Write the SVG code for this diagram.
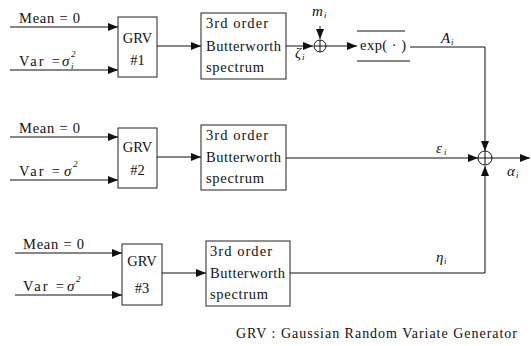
<svg xmlns="http://www.w3.org/2000/svg" width="531" height="346" viewBox="0 0 531 346">
<defs>
<marker id="ah" markerUnits="userSpaceOnUse" markerWidth="10" markerHeight="8" refX="10" refY="4" orient="auto">
<path d="M0,0 L10,4 L0,8 Z" fill="#111"/>
</marker>
<style>
.t{font-family:'Liberation Serif','DejaVu Serif',serif;font-size:14.5px;fill:#111}
.f{font-family:'Liberation Serif','DejaVu Serif',serif;font-size:14px;fill:#111}
.g{font-family:'Liberation Serif','DejaVu Serif',serif;font-size:15px;fill:#111;font-style:italic}
.s{font-family:'Liberation Serif','DejaVu Serif',serif;font-size:9px;fill:#111;font-style:italic}
.box{fill:#fff;stroke:#222;stroke-width:1}
.ln{fill:none;stroke:#111;stroke-width:1}
.ar{fill:none;stroke:#111;stroke-width:1;marker-end:url(#ah)}
</style>
</defs>
<rect width="531" height="346" fill="#fff"/>

<g id="connectors">
<line class="ar" x1="10" y1="27" x2="118" y2="27"/>
<line class="ar" x1="10" y1="70" x2="118" y2="70"/>
<line class="ar" x1="157" y1="46" x2="201" y2="46"/>
<line class="ar" x1="286" y1="46" x2="313" y2="46"/>
<line class="ar" x1="320" y1="26" x2="320" y2="39"/>
<line class="ar" x1="326" y1="46" x2="357" y2="46"/>
<polyline class="ar" points="410,47 485,47 485,151"/>
<line class="ar" x1="10" y1="137" x2="118" y2="137"/>
<line class="ar" x1="10" y1="180" x2="118" y2="180"/>
<line class="ar" x1="157" y1="157" x2="201" y2="157"/>
<line class="ar" x1="286" y1="158" x2="478" y2="158"/>
<line class="ar" x1="492" y1="158" x2="530" y2="158"/>
<line class="ar" x1="15" y1="253" x2="122" y2="253"/>
<line class="ar" x1="15" y1="295" x2="122" y2="295"/>
<line class="ar" x1="162" y1="273" x2="206" y2="273"/>
<polyline class="ar" points="290,273 485,273 485,166"/>
</g>

<g id="grv1">
<rect class="box" x="118" y="17" width="39" height="60"/>
<text class="t" x="137.5" y="43" text-anchor="middle">GRV</text>
<text class="t" x="137.5" y="65" text-anchor="middle">#1</text>
</g>
<g id="inputs1">
<text class="t" x="19" y="23" textLength="61" lengthAdjust="spacing">Mean = 0</text>
<text class="t" x="19" y="66" textLength="41" lengthAdjust="spacing">Var =</text>
<text class="g" x="62" y="66">σ</text>
<text class="s" x="71" y="57">2</text>
<text class="s" x="71" y="69">i</text>
</g>
<g id="bw1">
<rect class="box" x="201" y="13" width="85" height="66"/>
<text class="t" x="206" y="28" textLength="62" lengthAdjust="spacing">3rd order</text>
<text class="t" x="206" y="51" textLength="75" lengthAdjust="spacing">Butterworth</text>
<text class="t" x="206" y="72" textLength="58" lengthAdjust="spacing">spectrum</text>
</g>
<g id="zeta">
<text class="g" x="295" y="58">ζ</text>
<text class="s" x="302" y="60">i</text>
</g>
<g id="sum1">
<circle class="ln" cx="320" cy="46" r="6"/>
<line class="ln" x1="314" y1="46" x2="326" y2="46"/>
<line class="ln" x1="320" y1="40" x2="320" y2="52"/>
<text class="g" x="312" y="16">m</text>
<text class="s" x="324" y="18">i</text>
</g>
<g id="exp">
<line class="ln" x1="357" y1="31" x2="405" y2="31"/>
<line class="ln" x1="357" y1="61" x2="410" y2="61"/>
<text class="t" x="360" y="50" textLength="46" lengthAdjust="spacing">exp( · )</text>
</g>
<g id="Ai">
<text class="g" x="441" y="43">A</text>
<text class="s" x="451" y="45">i</text>
</g>

<g id="grv2">
<rect class="box" x="118" y="128" width="39" height="60"/>
<text class="t" x="137.5" y="152" text-anchor="middle">GRV</text>
<text class="t" x="137.5" y="175" text-anchor="middle">#2</text>
</g>
<g id="inputs2">
<text class="t" x="19" y="133" textLength="61" lengthAdjust="spacing">Mean = 0</text>
<text class="t" x="19" y="176" textLength="41" lengthAdjust="spacing">Var =</text>
<text class="g" x="64" y="176">σ</text>
<text class="s" x="73" y="167">2</text>
</g>
<g id="bw2">
<rect class="box" x="201" y="125" width="85" height="65"/>
<text class="t" x="206" y="140" textLength="62" lengthAdjust="spacing">3rd order</text>
<text class="t" x="206" y="162" textLength="75" lengthAdjust="spacing">Butterworth</text>
<text class="t" x="206" y="183" textLength="58" lengthAdjust="spacing">spectrum</text>
</g>
<g id="eps">
<text class="g" x="436" y="153">ε</text>
<text class="s" x="444" y="155">i</text>
</g>
<g id="sum2">
<circle class="ln" cx="485" cy="158" r="7"/>
<line class="ln" x1="478" y1="158" x2="492" y2="158"/>
<line class="ln" x1="485" y1="151" x2="485" y2="165"/>
</g>
<g id="alpha">
<text class="g" x="507" y="176">α</text>
<text class="s" x="516" y="178">i</text>
</g>

<g id="grv3">
<rect class="box" x="122" y="244" width="40" height="61"/>
<text class="t" x="142" y="266" text-anchor="middle">GRV</text>
<text class="t" x="142" y="293" text-anchor="middle">#3</text>
</g>
<g id="inputs3">
<text class="t" x="23" y="249" textLength="61" lengthAdjust="spacing">Mean = 0</text>
<text class="t" x="23" y="291" textLength="41" lengthAdjust="spacing">Var =</text>
<text class="g" x="67" y="291">σ</text>
<text class="s" x="76" y="282">2</text>
</g>
<g id="bw3">
<rect class="box" x="206" y="241" width="84" height="65"/>
<text class="t" x="210" y="256" textLength="62" lengthAdjust="spacing">3rd order</text>
<text class="t" x="210" y="278" textLength="75" lengthAdjust="spacing">Butterworth</text>
<text class="t" x="210" y="299" textLength="58" lengthAdjust="spacing">spectrum</text>
</g>
<g id="eta">
<text class="g" x="436" y="262">η</text>
<text class="s" x="444" y="264">i</text>
</g>

<text class="f" x="236" y="338" textLength="281" lengthAdjust="spacing">GRV : Gaussian Random Variate Generator</text>
</svg>
